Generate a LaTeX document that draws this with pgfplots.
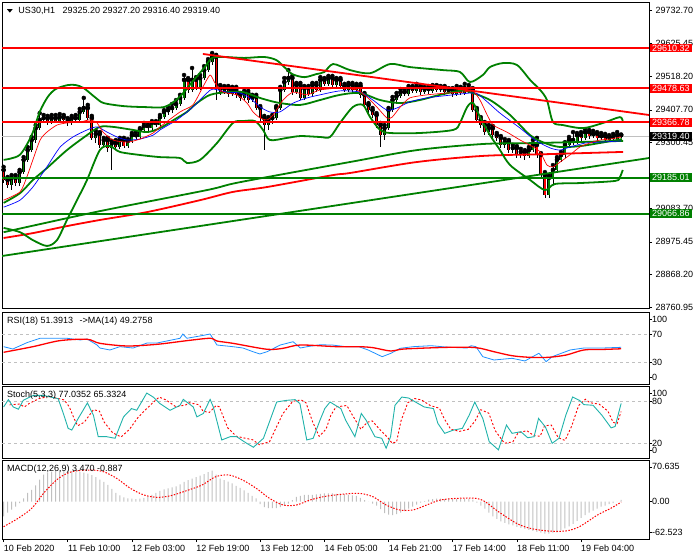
\documentclass[border=0pt]{standalone}
\usepackage{pgfplots}
\usepackage{pgfplotstable}
\pgfplotsset{compat=1.18}
\usepackage{fontspec}
\setmainfont{Liberation Sans}
\definecolor{mtred}{RGB}{255,0,0}
\definecolor{mtgreen}{RGB}{0,128,0}
\definecolor{mtblue}{RGB}{0,0,255}
\definecolor{dodger}{RGB}{30,144,255}
\definecolor{seag}{RGB}{32,178,170}
\definecolor{silv}{RGB}{192,192,192}
\newcommand\lf{\fontsize{9bp}{10bp}\selectfont}

\pgfplotstableread{
i O H L C
0 29211 29221 29168 29178
1 29178 29188 29152 29162
2 29162 29194 29145 29185
3 29185 29194 29158 29168
4 29168 29211 29158 29204
5 29204 29253 29198 29244
6 29244 29286 29237 29276
7 29276 29319 29270 29309
8 29309 29358 29299 29348
9 29348 29397 29342 29375
10 29375 29391 29365 29381
11 29381 29388 29358 29368
12 29368 29391 29361 29381
13 29381 29391 29365 29371
14 29371 29394 29365 29384
15 29384 29391 29368 29375
16 29375 29381 29355 29365
17 29365 29388 29358 29381
18 29381 29391 29365 29375
19 29375 29411 29368 29401
20 29401 29447 29394 29414
21 29414 29424 29375 29381
22 29381 29388 29309 29316
23 29316 29339 29299 29329
24 29329 29335 29283 29293
25 29293 29316 29283 29309
26 29309 29316 29270 29283
27 29283 29306 29211 29299
28 29299 29309 29276 29286
29 29286 29316 29280 29309
30 29309 29316 29283 29289
31 29289 29312 29283 29306
32 29306 29332 29299 29325
33 29325 29335 29309 29319
34 29319 29348 29312 29342
35 29342 29365 29335 29355
36 29355 29361 29339 29348
37 29348 29371 29342 29365
38 29365 29371 29352 29358
39 29358 29391 29352 29384
40 29384 29407 29378 29401
41 29401 29417 29391 29407
42 29407 29427 29397 29414
43 29414 29440 29407 29427
44 29427 29457 29420 29447
45 29447 29522 29440 29506
46 29506 29512 29463 29473
47 29473 29545 29466 29506
48 29506 29515 29473 29479
49 29479 29522 29473 29512
50 29512 29551 29506 29538
51 29538 29574 29532 29565
52 29565 29594 29555 29581
53 29581 29588 29440 29479
54 29479 29489 29457 29466
55 29466 29486 29460 29479
56 29479 29486 29450 29460
57 29460 29483 29453 29473
58 29473 29483 29447 29457
59 29457 29463 29437 29447
60 29447 29470 29440 29463
61 29463 29470 29430 29440
62 29440 29457 29434 29450
63 29450 29457 29407 29414
64 29414 29420 29371 29381
65 29381 29388 29276 29358
66 29358 29384 29342 29375
67 29375 29391 29361 29381
68 29381 29420 29375 29414
69 29414 29483 29407 29473
70 29473 29512 29466 29499
71 29499 29538 29489 29512
72 29512 29519 29457 29466
73 29466 29496 29460 29489
74 29489 29496 29440 29447
75 29447 29486 29440 29479
76 29479 29486 29453 29460
77 29460 29496 29453 29489
78 29489 29496 29466 29473
79 29473 29515 29466 29506
80 29506 29512 29486 29493
81 29493 29519 29486 29512
82 29512 29519 29479 29489
83 29489 29512 29483 29506
84 29506 29512 29479 29486
85 29486 29493 29466 29473
86 29473 29496 29466 29489
87 29489 29496 29463 29473
88 29473 29493 29466 29486
89 29486 29493 29447 29457
90 29457 29463 29417 29424
91 29424 29430 29397 29407
92 29407 29414 29381 29391
93 29391 29397 29348 29358
94 29358 29365 29286 29325
95 29325 29358 29309 29348
96 29348 29414 29342 29407
97 29407 29450 29401 29440
98 29440 29463 29434 29453
99 29453 29476 29447 29466
100 29466 29473 29453 29460
101 29460 29486 29453 29479
102 29479 29486 29463 29470
103 29470 29493 29463 29483
104 29483 29489 29457 29466
105 29466 29483 29460 29476
106 29476 29486 29460 29470
107 29470 29489 29463 29483
108 29483 29489 29466 29473
109 29473 29486 29466 29479
110 29479 29486 29457 29466
111 29466 29479 29460 29473
112 29473 29479 29450 29460
113 29460 29486 29453 29476
114 29476 29483 29457 29463
115 29463 29493 29457 29479
116 29479 29489 29463 29473
117 29473 29479 29401 29407
118 29407 29414 29365 29375
119 29375 29384 29348 29358
120 29358 29368 29325 29335
121 29335 29358 29325 29348
122 29348 29355 29316 29325
123 29325 29332 29306 29316
124 29316 29322 29283 29293
125 29293 29312 29283 29302
126 29302 29309 29266 29276
127 29276 29293 29266 29283
128 29283 29289 29250 29260
129 29260 29280 29250 29270
130 29270 29276 29244 29257
131 29257 29286 29250 29276
132 29276 29309 29270 29293
133 29293 29316 29250 29260
134 29260 29266 29185 29194
135 29194 29204 29119 29129
136 29129 29194 29119 29185
137 29185 29227 29162 29211
138 29211 29253 29201 29244
139 29244 29270 29237 29260
140 29260 29302 29250 29293
141 29293 29319 29286 29309
142 29309 29335 29293 29302
143 29302 29332 29296 29325
144 29325 29335 29306 29316
145 29316 29345 29309 29335
146 29335 29342 29312 29322
147 29322 29339 29316 29329
148 29329 29335 29302 29316
149 29316 29332 29309 29322
150 29322 29329 29299 29309
151 29309 29325 29302 29319
152 29319 29329 29306 29312
153 29312 29335 29306 29325
154 29325.2 29327.2 29316.4 29319.4
}\candles

\pgfplotsset{
  mtpanel/.style={
    scale only axis, width=647bp, xmin=-0.4, xmax=160.95,
    anchor=north west,
    axis line style={line width=0.8bp, black},
    xtick=\empty, ytick pos=right, yticklabel pos=right,
    tick align=outside, major tick length=3bp,
    tick style={line width=0.6bp, black},
    clip mode=individual,
    ticklabel style={font=\lf},
  }
}

\begin{document}
\begin{tikzpicture}
\path[use as bounding box] (0bp,0bp) rectangle (700bp,-560bp);

% ---------------- main panel ----------------
\begin{axis}[mtpanel, at={(2bp,-2bp)}, height=306.5bp,
  ymin=28757, ymax=29761.2,
  ytick={29732.70,29625.45,29518.20,29407.70,29300.45,29193.20,29083.70,28975.45,28868.20,28760.95},
  yticklabels={29732.70,29625.45,29518.20,29407.70,29300.45,,29083.70,28975.45,28868.20,28760.95}]
% current price line
\addplot[silv, line width=0.7bp] coordinates {(-0.4,29319.4) (160.95,29319.4)};
% wicks
\addplot[only marks, mark=none, error bars/.cd, y dir=minus, y explicit, error mark=none,
  error bar style={line width=0.8bp, black}]
  table[x=i, y=H, y error expr=\thisrow{H}-\thisrow{L}] {\candles};
% bodies
\addplot[only marks, mark=none, error bars/.cd, y dir=minus, y explicit, error mark=none,
  error bar style={line width=3bp, black}]
  table[x=i, y expr={max(\thisrow{O},\thisrow{C})}, y error expr={abs(\thisrow{O}-\thisrow{C})}] {\candles};
\addplot[only marks, mark=none, restrict expr to domain={\thisrow{C}-\thisrow{O}}{0.01:10000},
  error bars/.cd, y dir=minus, y explicit, error mark=none,
  error bar style={line width=1.2bp, mtgreen}]
  table[x=i, y=C, y error expr=\thisrow{C}-\thisrow{O}] {\candles};
\addplot[only marks, mark=none, restrict expr to domain={\thisrow{O}-\thisrow{C}}{0.01:10000},
  error bars/.cd, y dir=minus, y explicit, error mark=none,
  error bar style={line width=1.2bp, mtred}]
  table[x=i, y=O, y error expr=\thisrow{O}-\thisrow{C}] {\candles};

% long moving averages
\addplot[mtgreen, line width=1.8bp, smooth] coordinates {(0,29007) (24,29076) (50.7,29145) (59,29171) (86.4,29237) (103.1,29276) (119.6,29296) (132,29299) (154.5,29306)};
\addplot[mtred, line width=1.8bp, smooth] coordinates {(0,28988) (7.3,29004) (15.8,29027) (24,29047) (35.8,29073) (49,29112) (57.2,29139) (65.7,29155) (82.1,29194) (86.4,29201) (103.1,29237) (119.6,29257) (136.3,29263) (154.5,29270)};

% Bollinger bands
\addplot[mtgreen, line width=1.8bp, smooth, tension=0.5] coordinates {(0,29244) (4,29260) (7,29325) (9,29401) (11,29450) (13,29476) (16,29489) (18,29489) (20,29479) (23,29447) (25,29430) (30,29420) (35,29417) (40,29417) (43,29440) (45,29466) (47,29499) (50,29545) (52,29578) (55,29581) (60,29578) (65,29581) (68,29571) (70,29548) (72,29525) (75,29515) (78,29525) (80,29532) (82.2,29558) (86.4,29538) (91.4,29528) (96.4,29558) (101.3,29548) (109.6,29538) (113.8,29532) (116.3,29499) (119.5,29522) (121.3,29548) (124.5,29561) (128,29555) (131.3,29506) (133.8,29473) (135.5,29440) (137,29368) (139.5,29358) (144.5,29348) (149.5,29365) (153.7,29384) (154.4,29368)};
\addplot[mtgreen, line width=1.8bp, smooth, tension=0.5] coordinates {(0,29103) (4.1,29135) (7.3,29178) (10.8,29217) (15.8,29276) (20.8,29325) (24,29352) (27.3,29352) (32.3,29342) (35.8,29335) (39,29348) (43.2,29381) (45.7,29401) (48.2,29430) (51.5,29457) (55.7,29466) (59.7,29466) (63.2,29450) (65.7,29440) (69,29430) (74,29424) (78.9,29440) (83.9,29457) (88.9,29463) (93.9,29440) (98.9,29430) (103.8,29440) (108.8,29457) (113.8,29470) (116.3,29466) (121.3,29440) (126.3,29391) (131.3,29325) (135,29299) (138.8,29286) (143.7,29289) (148.6,29299) (154.2,29312)};
\addplot[mtgreen, line width=1.8bp, smooth, tension=0.5] coordinates {(0,29021) (4.1,29007) (7.3,28981) (10.8,28962) (13.3,28981) (15.8,29047) (18.3,29112) (20.8,29178) (24,29276) (26.5,29289) (29,29270) (34,29260) (39,29253) (44,29250) (45.7,29234) (49,29244) (53.2,29299) (57.2,29365) (59.7,29371) (62.7,29371) (64.7,29342) (66.4,29309) (70.7,29316) (74,29322) (78.9,29319) (81.4,29319) (83.9,29365) (87.1,29417) (89.6,29424) (91.4,29384) (93.9,29342) (96.4,29332) (103.8,29332) (112.1,29342) (113.8,29365) (115.6,29417) (117.1,29430) (118.8,29384) (121.3,29325) (123.8,29276) (126.3,29227) (131.3,29178) (135,29145) (137.5,29165) (143.7,29168) (152.5,29175) (153.7,29188) (154.4,29211)};

% fast moving averages
\addplot[mtblue, line width=0.7bp, smooth, tension=0.4] coordinates {(0,29089) (4.1,29112) (7.3,29155) (10.8,29221) (14.1,29286) (17.3,29319) (20.8,29342) (23.3,29352) (25.8,29335) (28.3,29319) (30.8,29309) (34,29312) (37.3,29325) (39,29342) (43.2,29375) (47.2,29417) (50.7,29463) (52.2,29476) (55.7,29466) (59,29463) (61.4,29447) (64,29417) (66.4,29401) (68.9,29401) (72.2,29430) (75.7,29447) (78.9,29457) (83.9,29470) (88.9,29466) (92.1,29440) (95.6,29407) (98.1,29414) (101.3,29434) (105.6,29447) (112.1,29457) (117.6,29463) (120.1,29440) (123.8,29397) (128.8,29348) (132.5,29309) (136.3,29283) (138.8,29276) (141.2,29286) (145,29299) (148.6,29302) (154,29306)};
\addplot[mtred, line width=0.7bp, smooth, tension=0.4] coordinates {(0,29112) (4.1,29139) (5.8,29188) (7.3,29244) (9.1,29309) (10.8,29335) (13.3,29358) (15.8,29365) (19.1,29368) (21.5,29375) (23.3,29365) (24.8,29335) (27.3,29309) (30.8,29302) (34,29312) (37.3,29332) (39,29352) (44,29401) (47.2,29424) (49.7,29483) (51.5,29522) (52.7,29496) (54.7,29466) (58.2,29457) (60.7,29430) (62.2,29401) (64,29381) (65.7,29375) (67.2,29391) (69.7,29440) (72.2,29466) (75.7,29457) (78.9,29473) (83.9,29479) (88.1,29473) (90.6,29450) (93.1,29417) (95.6,29381) (96.9,29384) (98.9,29417) (101.3,29447) (105.6,29457) (110.6,29463) (114.6,29466) (117,29470) (118.8,29440) (120.6,29391) (122.1,29358) (125.5,29335) (128.8,29309) (132.1,29286) (133.8,29270) (135.5,29227) (137,29221) (138.8,29237) (141.2,29260) (143.7,29286) (146.2,29299) (148.7,29309) (151.2,29312) (154,29319)};

% horizontal levels and trend lines
\addplot[mtgreen, line width=1.8bp] coordinates {(-0.4,28929) (160.95,29250)};
\addplot[mtred, line width=1.8bp] coordinates {(49.7,29591) (160.95,29391)};
\addplot[mtred, line width=2bp] coordinates {(-0.4,29610.32) (160.95,29610.32)};
\addplot[mtred, line width=2bp] coordinates {(-0.4,29478.63) (160.95,29478.63)};
\addplot[mtred, line width=2bp] coordinates {(-0.4,29366.78) (160.95,29366.78)};
\addplot[mtgreen, line width=2bp] coordinates {(-0.4,29185.01) (160.95,29185.01)};
\addplot[mtgreen, line width=2bp] coordinates {(-0.4,29066.86) (160.95,29066.86)};
\end{axis}

% ---------------- RSI ----------------
\begin{axis}[mtpanel, at={(2bp,-312.3bp)}, height=71.7bp, ymin=-1, ymax=101.4,
  ytick={91.8,70,30,8.5}, yticklabels={}]
\addplot[silv, dash pattern=on 3bp off 3bp, line width=0.6bp] coordinates {(-0.4,70) (160.95,70)};
\addplot[silv, dash pattern=on 3bp off 3bp, line width=0.6bp] coordinates {(-0.4,30) (160.95,30)};
\addplot[dodger, line width=0.8bp] coordinates {(0,52.3) (2.3,49) (5.8,58) (9.1,64.3) (15.8,64.3) (19.1,61.9) (20.8,63.3) (23.3,54.7) (24,50.4) (26.5,47.6) (29,52.3) (32.3,50.4) (35.8,57.6) (38.3,57.6) (44,64.3) (44.7,70.4) (45.7,64.3) (49,67.6) (51.5,70.4) (53.2,54.7) (57.2,52.3) (59.7,50.4) (62.2,45.1) (63.9,41.9) (65.7,45.1) (69,54.7) (72.2,59.4) (74,50.4) (75.7,52.3) (78.9,55) (81.9,54.7) (85.4,52.3) (88.6,52.3) (90.9,47.6) (94.4,38) (96.6,42.9) (98.9,50) (102.1,52.3) (106.6,53.7) (111.1,51.4) (115.6,50.4) (116.6,53.7) (117.8,52.3) (119.5,38) (122.3,33.3) (126.8,35.7) (130,31.9) (133.5,42.9) (135.3,30.9) (136.8,38) (141.3,47.6) (144.7,50.4) (149.2,50.4) (154,51.4)};
\addplot[mtred, line width=1.3bp, smooth] coordinates {(0,44.3) (7.3,52.3) (14,60.9) (20.8,62.9) (24,57.1) (30.8,53.3) (38.3,55.7) (45.7,60.9) (51.5,64.3) (53.2,60.4) (57.2,57.1) (65.7,48.6) (69.7,50) (74,54.7) (83.1,52.3) (88.6,52.3) (92.1,50.9) (96.6,46.1) (99.9,49) (111.1,51.4) (117.8,50.9) (122.3,45.1) (126.8,39.4) (131.3,37.1) (135.8,37.1) (140.3,40.4) (144.7,47.6) (149.2,48.3) (154,49.3)};
\end{axis}

% ---------------- Stochastic ----------------
\begin{axis}[mtpanel, at={(2bp,-386.7bp)}, height=71.3bp, ymin=-1.1, ymax=100.9,
  ytick={91.9,80,20,9.5}, yticklabels={}]
\addplot[silv, dash pattern=on 3bp off 3bp, line width=0.6bp] coordinates {(-0.4,80) (160.95,80)};
\addplot[silv, dash pattern=on 3bp off 3bp, line width=0.6bp] coordinates {(-0.4,20) (160.95,20)};
\addplot[mtred, line width=0.9bp, dash pattern=on 2bp off 2bp] coordinates {(1.5,75) (3.9,76) (5.2,72) (6.4,77) (8.9,84) (11.4,87) (15.1,82) (16.4,72) (17.6,55) (18.5,45) (20.1,50) (22.4,68) (23.9,66) (25.1,50) (27.2,35) (29.3,29) (31.4,40) (33.4,56) (34.7,64) (37.2,78) (38.8,86) (40.5,82) (43,72) (45.5,75) (46.3,78) (48.8,75) (49.7,66) (51.3,64) (53,74) (53.8,72) (55.9,42) (58,30) (59.6,28) (62.1,25) (63.8,18) (66.3,22) (69.6,62) (72.1,80) (74.2,82) (75.4,78) (77.1,50) (78.7,30) (80.4,40) (81.6,60) (82.9,72) (85.6,74) (86.8,62) (89.1,40) (90.7,50) (91.9,52) (94.1,38) (95.8,28) (96.9,20) (98,22) (99.1,52) (100.8,78) (102.5,84) (104.2,82) (106.4,74) (108.7,70) (109.8,56) (111.5,40) (113.7,37) (115.9,40) (117.6,52) (119,68) (121,63) (122.6,38) (124.9,20) (127,22) (128.3,35) (130.5,38) (132.2,31) (133.8,30) (134.9,45) (136.6,46) (138.3,28) (140,24) (141.7,45) (143.4,74) (145.1,83) (146.2,78) (148.5,76) (150.7,66) (152,50) (153,48) (154,65.3)};
\addplot[seag, line width=0.9bp] coordinates {(0,71.9) (1.2,82.4) (2.4,71.9) (3.7,68.7) (4.9,81.4) (7.4,88.5) (9.9,88.5) (13.6,83.8) (14.9,62.6) (16.1,41.3) (17,38.9) (18.6,55.5) (20.9,77.6) (22.4,60.1) (23.6,29.4) (25.7,29.4) (27.8,27.1) (29.9,57.7) (31.9,69.6) (33.2,67.2) (35.7,91.8) (37.3,86.1) (39,76.7) (41.5,67.2) (44,74.3) (44.8,82.8) (47.3,71.9) (48.2,57.7) (49.8,62.6) (51.5,82.8) (52.3,71.9) (54.4,24.7) (56.5,29.4) (58.1,29.4) (60.6,20) (62.3,14.3) (64.8,27.1) (68.1,79) (70.6,81.4) (72.7,82.4) (73.9,76.7) (75.6,24.7) (77.2,27.1) (78.9,53) (80.1,69.6) (81.4,79) (84.1,69.6) (85.3,53) (87.6,29.4) (89.2,62.6) (90.4,53) (92.6,29.4) (94.3,27.1) (95.4,12.9) (96.5,29.4) (97.6,74.3) (99.3,86.1) (101,84.7) (102.7,79) (104.9,71.9) (107.2,69.6) (108.3,48.4) (110,34.2) (112.2,38.9) (114.4,41.3) (116.1,60.1) (117.5,79) (119.5,55.5) (121.1,22.3) (123.4,10.5) (125.4,46) (126.8,34.2) (129,36.5) (130.7,27.9) (132.3,29.4) (133.4,55.5) (135.1,43.5) (136.8,20) (138.5,27.1) (140.2,60.1) (141.9,86.1) (143.6,81.4) (144.7,75.3) (147,74.3) (149.2,60.1) (151.5,42) (152.5,44) (154,77)};
\end{axis}

% ---------------- MACD ----------------
\begin{axis}[mtpanel, at={(2bp,-460.7bp)}, height=78.3bp, ymin=-75.7, ymax=83.2,
  ytick={70.635,0,-62.523}, yticklabels={},
  xtick={0,16,32,48,64,80,96,112,128,144}, xtick pos=lower, xticklabels={}]
\addplot[ybar, bar width=1bp, fill=silv, draw=none] coordinates {(0,-30) (1,-22) (2,-16) (3,-10) (4,-3) (5,7) (6,18) (7,24) (8,33) (9,45) (10,55) (11,59) (12,61) (13,62) (14,63) (15,64) (16,63) (17,62) (18,61) (19,60) (20,59) (21,57) (22,54) (23,50) (24,45) (25,40) (26,34) (27,26) (28,18) (29,13) (30,9) (31,7) (32,6) (33,5) (34,6) (35,8) (36,11) (37,14) (38,18) (39,22) (40,25) (41,27) (42,29) (43,31) (44,35) (45,40) (46,44) (47,47) (48,50) (49,53) (50,56) (51,60) (52,63) (53,55) (54,47) (55,44) (56,41) (57,37) (58,32) (59,28) (60,23) (61,18) (62,12) (63,7) (64,-5) (65,-11) (66,-13) (67,-13) (68,-13) (69,-11) (70,-8) (71,-4) (72,3) (73,10) (74,12) (75,14) (76,14) (77,14) (78,15) (79,16) (80,17) (81,17) (82,17) (83,16) (84,16) (85,15) (86,14) (87,13) (88,12) (89,8) (90,3) (91,0) (92,-4) (93,-8) (94,-15) (95,-23) (96,-26) (97,-27) (98,-25) (99,-22) (100,-19) (101,-14) (102,-10) (103,-6) (104,-2) (105,1) (106,4) (107,5) (108,6) (109,6) (110,5) (111,5) (112,5) (113,5) (114,5) (115,5) (116,5) (117,4) (118,-2) (119,-8) (120,-14) (121,-22) (122,-30) (123,-35) (124,-40) (125,-43) (126,-46) (127,-48) (128,-51) (129,-53) (130,-55) (131,-57) (132,-59) (133,-61) (134,-63) (135,-65) (136,-65) (137,-63) (138,-62) (139,-58) (140,-54) (141,-50) (142,-45) (143,-39) (144,-33) (145,-27) (146,-22) (147,-18) (148,-14) (149,-10) (150,-8) (151,-5) (152,-3) (153,0) (154,3.47)};
\addplot[mtred, line width=1bp, dash pattern=on 1.5bp off 1.5bp, smooth] coordinates {(0,-50.7) (3.6,-33.8) (7,-13.5) (10.3,20.3) (13.7,47.4) (17,60.9) (21.5,64.3) (24.9,60.9) (28.2,47.4) (31.6,27.2) (35,13.6) (38.3,8.9) (41.7,12.2) (46.1,23.7) (49.5,33.9) (52.9,50.7) (56.2,54.2) (59.6,44) (63,27.2) (66.3,6.9) (69.7,-6.7) (73,-6.7) (76.4,3.4) (79.7,10.1) (84.2,15) (88.7,17) (92.1,10.1) (95.4,-6.7) (98.8,-16.8) (102.1,-16.8) (105.5,-6.7) (108.9,3.4) (113.3,6.9) (117.8,6.9) (120.1,0) (123.4,-20.3) (127.9,-43.8) (131.3,-54) (135.7,-59.4) (140.2,-59.4) (143.6,-50.7) (148.1,-27) (151.4,-13.5) (154,-0.9)};
\end{axis}

% ---------------- texts ----------------
\fill (7bp,-9.2bp) -- (12.6bp,-9.2bp) -- (9.8bp,-12.6bp) -- cycle;
\node[anchor=west, inner sep=0pt, font=\lf] at (18.3bp,-10.7bp) {US30,H1\hspace{5bp} 29325.20 29327.20 29316.40 29319.40};
\node[anchor=west, inner sep=0pt, font=\lf] at (7bp,-321.5bp) {RSI(18) 51.3913\hspace{4bp} ->MA(14) 49.2758};
\node[anchor=west, inner sep=0pt, font=\lf] at (7bp,-395.5bp) {Stoch(5,3,3) 77.0352 65.3324};
\node[anchor=west, inner sep=0pt, font=\lf] at (7bp,-469.5bp) {MACD(12,26,9) 3.470 -0.887};

% right-side price boxes
\node[anchor=west, fill=mtred, text=white, inner xsep=2.5bp, inner ysep=1.2bp, font=\lf] at (649.5bp,-48.0bp) {29610.32};
\node[anchor=west, fill=mtred, text=white, inner xsep=2.5bp, inner ysep=1.2bp, font=\lf] at (649.5bp,-88.2bp) {29478.63};
\node[anchor=west, fill=mtred, text=white, inner xsep=2.5bp, inner ysep=1.2bp, font=\lf] at (649.5bp,-122.4bp) {29366.78};
\node[anchor=west, fill=black, text=white, inner xsep=2.5bp, inner ysep=1.2bp, font=\lf] at (649.5bp,-136.8bp) {29319.40};
\node[anchor=west, fill=mtgreen, text=white, inner xsep=2.5bp, inner ysep=1.2bp, font=\lf] at (649.5bp,-177.4bp) {29185.01};
\node[anchor=west, fill=mtgreen, text=white, inner xsep=2.5bp, inner ysep=1.2bp, font=\lf] at (649.5bp,-213.3bp) {29066.86};

% indicator scale labels
\begin{scope}[every node/.style={anchor=west, inner sep=0pt, font=\lf}]
\node at (652bp,-319bp) {100};
\node at (652bp,-334.3bp) {70};
\node at (652bp,-362.3bp) {30};
\node at (652bp,-377.3bp) {0};
\node at (652bp,-393bp) {100};
\node at (652bp,-401.3bp) {80};
\node at (652bp,-443.3bp) {20};
\node at (652bp,-450.7bp) {0};
\node at (652bp,-466.7bp) {70.635};
\node at (652bp,-501.7bp) {0.00};
\node at (652bp,-532.3bp) {-62.523};
% time axis labels
\node at (3.6bp,-548.3bp) {10 Feb 2020};
\node at (67.8bp,-548.3bp) {11 Feb 10:00};
\node at (131.9bp,-548.3bp) {12 Feb 03:00};
\node at (196.1bp,-548.3bp) {12 Feb 19:00};
\node at (260.2bp,-548.3bp) {13 Feb 12:00};
\node at (324.4bp,-548.3bp) {14 Feb 05:00};
\node at (388.6bp,-548.3bp) {14 Feb 21:00};
\node at (452.7bp,-548.3bp) {17 Feb 14:00};
\node at (516.9bp,-548.3bp) {18 Feb 11:00};
\node at (581bp,-548.3bp) {19 Feb 04:00};
\end{scope}
\end{tikzpicture}
\end{document}
